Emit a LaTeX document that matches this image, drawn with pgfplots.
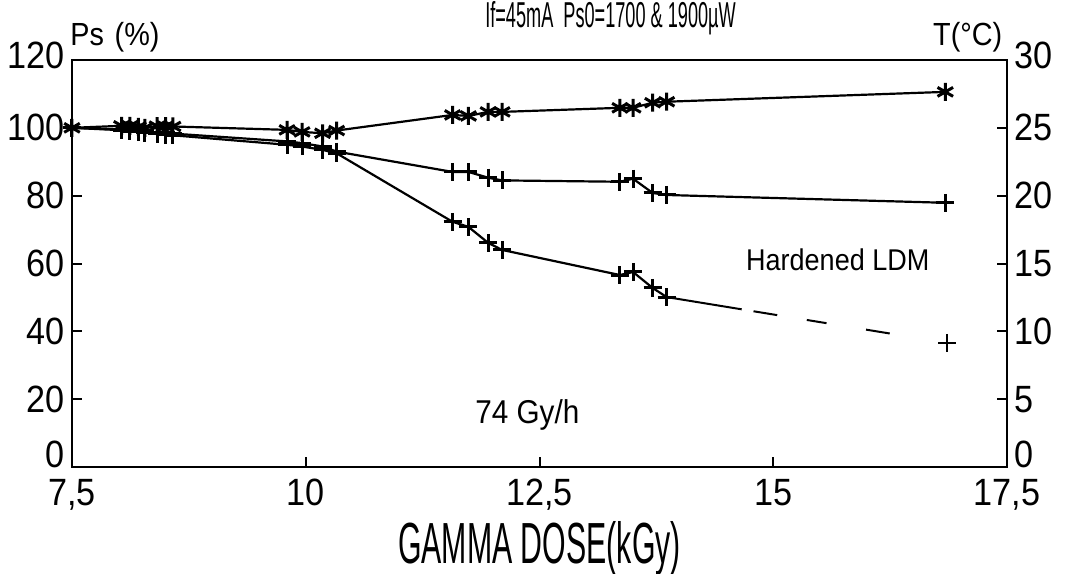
\documentclass[border=0pt]{standalone}
\usepackage{fontspec}
\setmainfont{Liberation Sans}[FakeStretch=0.9]
\usepackage{graphicx}
\usepackage{pgfplots}
\pgfplotsset{compat=1.18}

\pgfplotstableread{
x y
7.5 100
8.03 100.6
8.12 100.6
8.21 100.3
8.28 100.0
8.41 100.5
8.50 100.5
8.58 100.4
9.80 99.4
9.96 98.8
10.18 98.4
10.33 99.2
11.57 103.8
11.74 103.5
11.95 104.7
12.10 104.7
13.36 105.9
13.50 105.9
13.71 107.4
13.86 107.7
16.84 110.6
}\seriesT

\pgfplotstableread{
x y
7.5 100
8.03 99.5
8.12 99.5
8.21 99.0
8.28 99.0
8.41 98.6
8.50 98.5
8.58 98.3
9.80 96.0
9.96 95.5
10.18 94.5
10.33 93.0
11.57 87.0
11.74 87.0
11.95 85.3
12.10 84.5
13.36 84.1
13.50 85.0
13.71 80.8
13.86 80.2
16.84 77.9
}\seriesHard

\pgfplotstableread{
x y
7.5 100
8.03 99.3
8.12 99.0
8.21 98.8
8.28 98.6
8.41 98.3
8.50 98.0
8.58 97.8
9.80 95.0
9.96 94.5
10.18 93.5
10.33 92.5
11.57 72.3
11.74 70.8
11.95 66.1
12.10 64.0
13.36 56.6
13.50 57.5
13.71 52.8
13.86 50.1
}\seriesStd

\pgfplotstableread{
x y
13.86 50.1
16.86 36.6
}\seriesStdEnd

\begin{document}
\begin{tikzpicture}
\begin{axis}[name=ax, scale only axis, width=467.5pt, height=203.5pt,
  xmin=7.5, xmax=17.5, ymin=0, ymax=120,
  xtick={7.5,10,12.5,15,17.5},
  xticklabels={7{,}5,10,12{,}5,15,17{,}5},
  ytick={0,20,...,120},
  yticklabels={\raisebox{13pt}{0},20,40,60,80,100,\raisebox{5pt}{120}},
  xticklabel style={yshift=-2.5pt},
  xtick pos=bottom, ytick pos=left, tick align=inside,
  major tick length=5pt,
  axis line style={line width=1pt},
  every tick/.style={line width=1pt, black},
  ticklabel style={font=\fontsize{19}{20}\selectfont},
  /pgf/number format/assume math mode=true,
  clip=false]
\addplot[line width=1.1pt, mark=asterisk, mark size=4.5pt, mark options={line width=1.5pt}] table {\seriesT};
\addplot[line width=1.1pt, mark=+, mark size=4.5pt, mark options={line width=1.5pt}] table {\seriesHard};
\addplot[line width=1.1pt, mark=+, mark size=4.5pt, mark options={line width=1.5pt}] table {\seriesStd};
\addplot[line width=1pt, dash pattern={on 38pt off 6pt on 12pt off 15pt on 10pt off 20pt on 12pt off 40pt}, mark=+, mark size=4.5pt, mark indices={2}, mark options={solid, line width=1.2pt}] table {\seriesStdEnd};
\node[font=\fontsize{15}{16}\selectfont] at (axis cs:15.69,61.1) {Hardened LDM};
\node[font=\fontsize{16.5}{17}\selectfont] at (axis cs:12.37,15.3) {74 Gy/h};
\node[font=\fontsize{16}{17}\selectfont] at (axis cs:7.96,126.8) {Ps\,\,(\%)};
\node[font=\fontsize{16}{17}\selectfont] at (axis cs:17.08,126.8) {T(°C)};
\node[anchor=base] at (axis cs:13.26,129.6) {\scalebox{0.56}[1]{\fontsize{18}{19}\selectfont If=45mA\ \ Ps0=1700 \& 1900µW}};
\node at (axis cs:12.5,-24) {\scalebox{0.58}[1]{\fontsize{29}{30}\selectfont GAMMA DOSE(kGy)}};
\end{axis}
\begin{axis}[scale only axis, width=467.5pt, height=203.5pt,
  xmin=7.5, xmax=17.5, ymin=0, ymax=30,
  axis x line=none, axis y line*=right,
  ytick={0,5,...,30},
  yticklabels={\raisebox{13pt}{0},5,10,15,20,25,\raisebox{5pt}{30}},
  tick align=inside,
  major tick length=5pt,
  axis line style={line width=1pt, -},
  every tick/.style={line width=1pt, black},
  ticklabel style={font=\fontsize{19}{20}\selectfont},
  /pgf/number format/assume math mode=true]
\end{axis}
\pgfresetboundingbox
\useasboundingbox ([shift={(-36pt,-53pt)}]ax.south west) rectangle ([shift={(29pt,30pt)}]ax.north east);
\end{tikzpicture}
\end{document}
